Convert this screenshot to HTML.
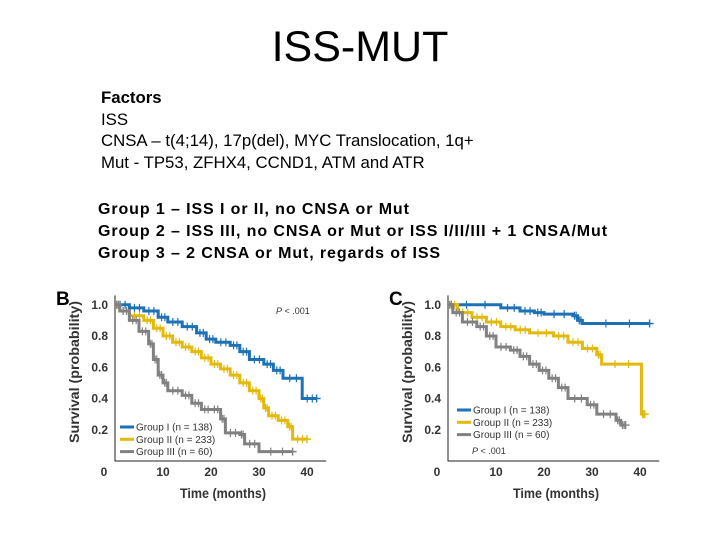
<!DOCTYPE html>
<html><head><meta charset="utf-8"><style>
body{margin:0;background:#fff;}
#root{position:relative;width:720px;height:540px;overflow:hidden;font-family:"Liberation Sans",sans-serif;}
.t{position:absolute;white-space:nowrap;color:#000;}
</style></head><body>
<div id="root">
<div class="t" style="left:0;width:720px;text-align:center;top:23px;font-size:43px;">ISS-MUT</div>
<div class="t" style="left:101px;top:88px;font-size:16.8px;font-weight:bold;">Factors</div>
<div class="t" style="left:101px;top:110px;font-size:16.8px;">ISS</div>
<div class="t" style="left:101px;top:131px;font-size:16.8px;">CNSA – t(4;14), 17p(del), MYC Translocation, 1q+</div>
<div class="t" style="left:101px;top:153px;font-size:16.8px;">Mut - TP53, ZFHX4, CCND1, ATM and ATR</div>
<div class="t" style="left:98px;top:201px;font-size:16px;font-weight:bold;letter-spacing:0.9px;">Group 1 – ISS I or II, no CNSA or Mut</div>
<div class="t" style="left:98px;top:223px;font-size:16px;font-weight:bold;letter-spacing:0.9px;">Group 2 – ISS III, no CNSA or Mut or ISS I/II/III + 1 CNSA/Mut</div>
<div class="t" style="left:98px;top:245px;font-size:16px;font-weight:bold;letter-spacing:0.9px;">Group 3 – 2 CNSA or Mut, regards of ISS</div>
<svg id="chart" width="720" height="540" style="position:absolute;left:0;top:0"></svg>
</div>
<script>
const xTicks=[0,10,20,30,40];
const yTicks=[0.2,0.4,0.6,0.8,1.0];
const groupLabels=["Group I (n = 138)","Group II (n = 233)","Group III (n = 60)"];
const colors=["#1d72b5","#e3b90c","#818181"];
const bG1T=[0,3,6,9,11,14,17,19,21,24,26,28,31,33,35,39,42];
const bG1S=[1,0.98,0.96,0.92,0.89,0.86,0.82,0.78,0.76,0.74,0.70,0.65,0.62,0.58,0.53,0.40,0.40];
const bG2T=[0,1,3,6,8,10,12,14,16,18,20,22,24,26,28,30,31,32,34,36,37,40];
const bG2S=[1,0.96,0.93,0.90,0.85,0.80,0.76,0.73,0.70,0.66,0.62,0.59,0.55,0.50,0.45,0.40,0.34,0.29,0.26,0.22,0.14,0.14];
const bG3T=[0,1,3,5,7,8,9,10,11,14,16,18,20,22,23,26,27,30,37];
const bG3S=[1,0.96,0.90,0.83,0.75,0.65,0.55,0.50,0.45,0.42,0.37,0.33,0.33,0.27,0.18,0.17,0.11,0.06,0.06];
const cG1T=[0,11,15,18,20,26,27,28,42];
const cG1S=[1,0.98,0.96,0.95,0.94,0.93,0.90,0.88,0.88];
const cG2T=[0,2,5,8,11,14,17,22,25,28,31,32,40,40.3,41];
const cG2S=[1,0.95,0.92,0.89,0.86,0.84,0.82,0.80,0.76,0.72,0.68,0.62,0.62,0.30,0.30];
const cG3T=[0,1,3,6,8,10,13,15,17,19,21,23,25,29,31,35,36,37];
const cG3S=[1,0.95,0.89,0.86,0.80,0.73,0.71,0.67,0.62,0.58,0.53,0.47,0.40,0.36,0.30,0.26,0.23,0.23];

const svg=document.getElementById('chart');
const NS='http://www.w3.org/2000/svg';
function mk(tag,attrs,parent){const e=document.createElementNS(NS,tag);for(const k in attrs)e.setAttribute(k,attrs[k]);(parent||svg).appendChild(e);return e;}
function panel(id,x0,letter,series,legY,legX,pX,pY){
  const X=t=>x0+t*4.8, Y=s=>461-s*156.25;
  const g=mk('g',{});
  
  
  const lt=mk('text',{x:x0-59,y:305,'font-size':19,'font-weight':'bold','font-family':'Liberation Sans, sans-serif'},g);lt.textContent=letter;
  
  
  const ax=mk('path',{d:`M${x0},${Y(1.06)}V461H${X(44)}`,stroke:'#222',fill:'none','stroke-width':1},g);
  
  
  yTicks.forEach(v=>{const t=mk('text',{x:x0-7,y:Y(v)+4,'text-anchor':'end','font-size':12,'font-weight':'bold',fill:'#333','font-family':'Liberation Sans, sans-serif'},g);t.textContent=v.toFixed(1);
    
    });
  xTicks.forEach(v=>{const t=mk('text',{x:v===0?x0-11:X(v),y:476,'text-anchor':'middle','font-size':12,'font-weight':'bold',fill:'#333','font-family':'Liberation Sans, sans-serif'},g);t.textContent=v;
    
    });
  const xt=mk('text',{x:X(22.5),y:498,'text-anchor':'middle','font-size':14,'font-weight':'bold',fill:'#333','font-family':'Liberation Sans, sans-serif','textLength':86,'lengthAdjust':'spacingAndGlyphs'},g);xt.textContent='Time (months)';
  
  
  const yt=mk('text',{x:0,y:0,'text-anchor':'middle','font-size':14,'font-weight':'bold',fill:'#333','font-family':'Liberation Sans, sans-serif',transform:`translate(${x0-36},372) rotate(-90)`,'textLength':142,'lengthAdjust':'spacingAndGlyphs'},g);yt.textContent='Survival (probability)';
  
  
  series.forEach((s,i)=>{
    const [T,S]=s;let d=`M${X(T[0])},${Y(S[0])}`;
    for(let k=1;k<T.length;k++){d+=`H${X(T[k])}V${Y(S[k])}`;}
    const p=mk('path',{d,stroke:colors[i],'stroke-width':3,fill:'none'},g);
    
    
    for(let k=1;k<T.length;k++){if(T[k]-T[k-1]<0.5)continue;
      for(const f of [0.35,0.7]){const tm=T[k-1]+(T[k]-T[k-1])*f;
      const c=mk('path',{d:`M${X(tm)},${Y(S[k-1])-4}v8`,stroke:colors[i],'stroke-width':1.2},g);
      
      }}
    const last=T.length-1;
    const ce=mk('path',{d:`M${X(T[last])-4},${Y(S[last])}h8M${X(T[last])},${Y(S[last])-4}v8`,stroke:colors[i],'stroke-width':1.4},g);
    
    
    const ly=legY+i*12.3;
    const ll=mk('path',{d:`M${legX},${ly}h14`,stroke:colors[i],'stroke-width':3},g);
    
    
    const lt2=mk('text',{x:legX+16,y:ly+3.5,'font-size':10,fill:'#333','font-family':'Liberation Sans, sans-serif'},g);lt2.textContent=groupLabels[i];
    
    
  });
  const pt=mk('text',{x:pX,y:pY,'font-size':9,fill:'#333','font-family':'Liberation Sans, sans-serif'},g);
  pt.innerHTML='<tspan font-style="italic">P</tspan> &lt; .001';
  
  
}
panel('b',115,'B',[[bG1T,bG1S],[bG2T,bG2S],[bG3T,bG3S]],427,120,276,314);
panel('c',448,'C',[[cG1T,cG1S],[cG2T,cG2S],[cG3T,cG3S]],410,457,472,454);
</script>
</body></html>
